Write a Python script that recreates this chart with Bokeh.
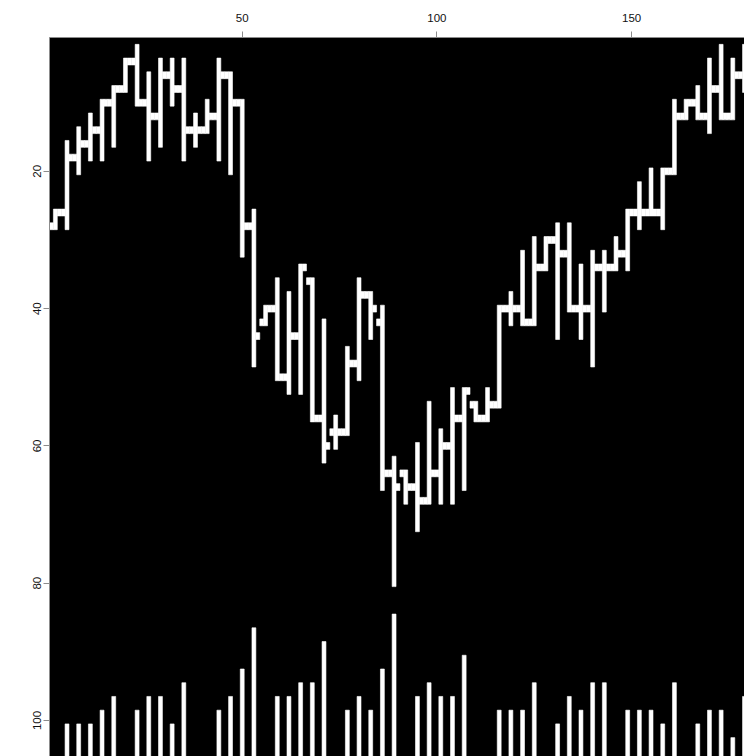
from bokeh.plotting import figure
from bokeh.models import Range1d, FixedTicker, ColumnDataSource
from bokeh.embed import file_html
from bokeh.resources import INLINE

# Daily OHLC bars drawn on an image grid: three columns per day
# (open tick | high-low bar | close tick), rows counted downward.
opens = [28, 26, 18, 16, 14, 10, 8, 4, 10, 12,
         6, 8, 14, 14, 12, 6, 10, 28, 42, 40,
         50, 44, 36, 56, 58, 58, 48, 38, 42, 64,
         64, 66, 68, 64, 60, 56, 54, 56, 54, 40,
         40, 42, 34, 30, 32, 40, 40, 34, 34, 32,
         26, 26, 26, 20, 12, 10, 12, 8, 12, 6]
highs = [26, 16, 14, 12, 10, 8, 4, 2, 6, 4,
         4, 4, 12, 10, 4, 6, 10, 26, 40, 36,
         38, 34, 36, 42, 56, 46, 36, 38, 40, 62,
         64, 60, 54, 58, 52, 52, 54, 52, 40, 38,
         32, 30, 30, 28, 28, 34, 32, 32, 30, 26,
         22, 20, 20, 10, 10, 8, 4, 2, 4, 2]
lows = [28, 28, 20, 18, 18, 16, 8, 10, 18, 16,
        10, 18, 16, 14, 18, 20, 32, 48, 42, 50,
        52, 52, 56, 62, 60, 58, 50, 44, 66, 80,
        68, 72, 68, 68, 68, 66, 56, 56, 54, 42,
        42, 42, 34, 44, 40, 44, 48, 40, 34, 34,
        28, 26, 28, 20, 12, 12, 14, 12, 12, 8]
closes = [26, 18, 16, 14, 10, 8, 4, 10, 12, 6,
          8, 14, 14, 12, 6, 10, 28, 44, 40, 50,
          44, 34, 56, 60, 58, 48, 38, 40, 64, 66,
          66, 68, 64, 60, 56, 52, 56, 54, 40, 40,
          42, 34, 30, 32, 40, 40, 34, 34, 32, 26,
          26, 26, 20, 12, 10, 12, 8, 12, 6, 6]
# trading volume, in grid rows above the base line
volume = [0, 5, 5, 5, 7, 9, 0, 7, 9, 9,
          5, 11, 0, 0, 7, 9, 13, 19, 0, 9,
          9, 11, 11, 17, 0, 7, 9, 7, 13, 21,
          0, 9, 11, 9, 9, 15, 0, 0, 7, 7,
          7, 11, 0, 5, 9, 7, 11, 11, 0, 7,
          7, 7, 5, 11, 0, 5, 7, 7, 3, 9]
volume_base = 106

x_ticks = [50, 100, 150]
y_ticks = [20, 40, 60, 80, 100]

n = len(opens)
centre = [3 * d + 2 for d in range(n)]

bars = ColumnDataSource(dict(
    left=[c - 0.5 for c in centre], right=[c + 0.5 for c in centre],
    top=[h - 0.5 for h in highs], bottom=[l + 0.5 for l in lows]))
open_ticks = ColumnDataSource(dict(
    left=[c - 1.5 for c in centre], right=[c - 0.5 for c in centre],
    top=[o - 0.5 for o in opens], bottom=[o + 0.5 for o in opens]))
close_ticks = ColumnDataSource(dict(
    left=[c + 0.5 for c in centre], right=[c + 1.5 for c in centre],
    top=[v - 0.5 for v in closes], bottom=[v + 0.5 for v in closes]))
vol_idx = [d for d in range(n) if volume[d] > 0]
vol_bars = ColumnDataSource(dict(
    left=[centre[d] - 0.5 for d in vol_idx], right=[centre[d] + 0.5 for d in vol_idx],
    top=[volume_base - volume[d] - 0.5 for d in vol_idx],
    bottom=[volume_base + 1 for d in vol_idx]))

p = figure(width=744, height=756, output_backend="svg", toolbar_location=None,
           x_range=Range1d(0.5, 179.0), y_range=Range1d(105.25, 0.5),
           x_axis_location="above",
           min_border_left=49, min_border_top=37,
           min_border_right=0, min_border_bottom=0)
p.background_fill_color = "black"
p.border_fill_color = "white"
p.outline_line_color = None
p.grid.visible = False

for src in (bars, open_ticks, close_ticks, vol_bars):
    p.quad(left="left", right="right", top="top", bottom="bottom", source=src,
           fill_color="white", line_color="white", line_width=0.6)

for ax in (p.xaxis[0], p.yaxis[0]):
    ax.axis_line_color = "#8c8c8c"
    ax.major_tick_line_color = "#8c8c8c"
    ax.major_tick_out = 6
    ax.major_tick_in = 0
    ax.minor_tick_line_color = None
    ax.major_label_text_font = "Liberation Sans"
    ax.major_label_text_font_size = "11.5px"
    ax.major_label_text_color = "#111111"

p.xaxis.ticker = FixedTicker(ticks=x_ticks)
p.yaxis.ticker = FixedTicker(ticks=y_ticks)
p.xaxis.major_label_standoff = 10
p.yaxis.major_label_standoff = 2
p.yaxis.major_label_orientation = "vertical"

open("out.html", "w").write(file_html(p, INLINE))
